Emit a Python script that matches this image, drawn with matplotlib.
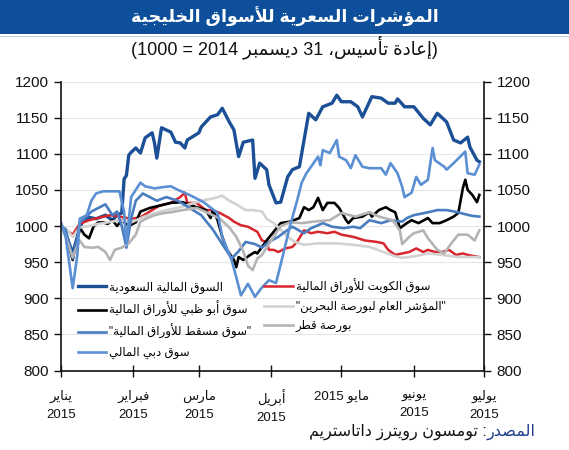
import re
import numpy as np
import matplotlib
matplotlib.use("Agg")
import matplotlib.pyplot as plt
from matplotlib.patches import Rectangle

plt.rcParams['font.family'] = ['Liberation Sans', 'DejaVu Sans']

# ---------------- data (days after 1 Jan 2015, index rebased 31 Dec 2014 = 1000) ----------------
saudi_days = [0, 2, 5, 7, 9, 12, 15, 19, 22, 24, 26, 27, 28, 29, 30, 32, 34, 36, 39, 40,
              41, 43, 45, 47, 49, 51, 53, 54, 56, 59, 60, 62, 64, 67, 69, 72, 74, 76, 78, 82,
              83, 85, 88, 89, 92, 94, 97, 99, 102, 104, 106, 109, 112, 116, 118, 120, 124, 127, 129, 133,
              137, 140, 143, 144, 147, 151, 155, 158, 161, 165, 168, 171, 174, 175, 178, 179]
saudi_vals = [1000, 990, 962, 985, 1005, 1012, 1010, 1015, 1008, 1015, 1018, 1065, 1070, 1098, 1102, 1108, 1101, 1122, 1129, 1115,
              1094, 1136, 1133, 1130, 1116, 1115, 1108, 1119, 1123, 1129, 1137, 1144, 1151, 1154, 1163, 1144, 1133, 1096, 1116, 1119,
              1066, 1087, 1078, 1057, 1032, 1033, 1068, 1078, 1082, 1119, 1156, 1147, 1165, 1170, 1181, 1172, 1172, 1165, 1151, 1179,
              1177, 1170, 1170, 1176, 1165, 1165, 1149, 1140, 1156, 1144, 1119, 1115, 1123, 1109, 1091, 1089]

kuwait_days = [0, 2, 5, 8, 12, 17, 21, 25, 30, 34, 38, 42, 47, 51, 53, 54, 58, 62, 65, 68,
               72, 74, 77, 80, 84, 86, 88, 89, 91, 93, 96, 99, 101, 104, 107, 110, 114, 117, 120, 125,
               127, 130, 135, 138, 140, 143, 146, 149, 152, 155, 157, 160, 163, 166, 169, 172, 174, 179]
kuwait_vals = [1000, 995, 988, 1003, 1008, 1012, 1015, 1013, 1010, 1012, 1020, 1028, 1032, 1040, 1046, 1032, 1032, 1022, 1022, 1018,
               1011, 1006, 1001, 999, 992, 980, 978, 967, 967, 964, 969, 971, 978, 994, 990, 992, 990, 992, 988, 985,
               983, 980, 978, 976, 967, 960, 962, 964, 969, 964, 967, 964, 964, 967, 960, 962, 960, 957]

abudhabi_days = [0, 2, 5, 7, 8, 10, 12, 14, 16, 18, 20, 22, 24, 26, 29, 32, 34, 38, 42, 47,
                 52, 58, 62, 64, 65, 67, 69, 71, 74, 75, 76, 78, 81, 83, 84, 86, 88, 91, 94, 98,
                 102, 104, 106, 108, 110, 112, 114, 117, 119, 122, 123, 125, 129, 132, 133, 136, 139, 141, 143, 145,
                 148, 150, 153, 157, 159, 162, 165, 168, 170, 172, 173, 174, 176, 178, 179]
abudhabi_vals = [1000, 990, 953, 985, 998, 988, 983, 1000, 1005, 1005, 1003, 1008, 1000, 1008, 1000, 1005, 1020, 1025, 1028, 1032,
                 1033, 1026, 1022, 1011, 1022, 1008, 985, 967, 953, 943, 957, 953, 960, 964, 962, 971, 980, 992, 1004, 1006,
                 1011, 1026, 1022, 1026, 1039, 1022, 1032, 1032, 1025, 1008, 1004, 1011, 1013, 1019, 1013, 1022, 1026, 1022, 1019, 997,
                 1004, 1008, 1004, 1011, 1004, 1004, 1008, 1013, 1018, 1053, 1064, 1050, 1043, 1033, 1043]

bahrain_days = [0, 2, 5, 8, 12, 16, 20, 25, 30, 35, 40, 45, 50, 55, 60, 65, 69, 72, 75, 79,
                82, 86, 88, 91, 94, 97, 100, 104, 110, 118, 125, 132, 138, 143, 146, 151, 157, 163, 170, 179]
bahrain_vals = [1000, 997, 985, 998, 1000, 1003, 1005, 1008, 1005, 1012, 1018, 1022, 1025, 1030, 1035, 1038, 1042, 1035, 1030, 1022,
                1022, 1020, 1010, 1004, 995, 985, 978, 974, 976, 976, 974, 971, 964, 958, 956, 958, 962, 960, 957, 957]

muscat_days = [0, 2, 5, 7, 8, 10, 13, 16, 19, 22, 24, 26, 28, 30, 32, 35, 38, 41, 45, 50,
               55, 60, 65, 70, 73, 76, 79, 83, 86, 89, 93, 95, 99, 104, 107, 110, 112, 116, 121, 125,
               128, 132, 137, 141, 146, 148, 151, 157, 161, 165, 170, 172, 176, 179]
muscat_vals = [1000, 995, 955, 985, 1005, 1010, 1020, 1025, 1030, 1015, 1020, 1000, 970, 1010, 1035, 1045, 1040, 1035, 1040, 1035,
               1025, 1015, 995, 970, 955, 965, 978, 975, 970, 978, 985, 990, 999, 990, 997, 1001, 1004, 999, 997, 999,
               997, 1008, 1004, 1008, 1006, 1011, 1015, 1019, 1022, 1022, 1019, 1017, 1014, 1013]

qatar_days = [0, 2, 5, 8, 10, 13, 16, 19, 21, 23, 26, 29, 32, 34, 37, 40, 44, 47, 52, 58,
              63, 68, 72, 75, 78, 80, 82, 84, 86, 88, 91, 94, 98, 103, 108, 115, 120, 126, 132, 136,
              142, 145, 146, 149, 151, 155, 157, 161, 164, 167, 170, 174, 177, 179]
qatar_vals = [1000, 985, 957, 980, 971, 970, 971, 964, 953, 967, 970, 976, 988, 1006, 1011, 1015, 1018, 1019, 1022, 1025,
              1018, 1010, 998, 985, 965, 945, 939, 955, 960, 970, 985, 1000, 1005, 1004, 1006, 1008, 1018, 1013, 1019, 1013,
              1008, 994, 975, 985, 990, 994, 983, 967, 962, 976, 988, 988, 980, 994]

dubai_days = [0, 2, 5, 7, 8, 11, 13, 15, 18, 25, 27, 28, 30, 34, 36, 40, 44, 47, 50, 55,
              61, 67, 69, 73, 75, 77, 80, 83, 86, 89, 92, 95, 98, 101, 103, 105, 107, 110, 111, 112,
              115, 118, 119, 122, 124, 126, 129, 132, 137, 139, 141, 144, 146, 147, 150, 152, 154, 157, 159, 160,
              164, 165, 168, 173, 174, 177, 179]
dubai_vals = [1005, 985, 914, 960, 1010, 1015, 1035, 1045, 1048, 1048, 1020, 975, 1040, 1060, 1055, 1052, 1054, 1055, 1050, 1043,
              1033, 1018, 985, 953, 929, 904, 920, 902, 915, 925, 921, 960, 1000, 1035, 1060, 1073, 1082, 1096, 1084, 1105,
              1101, 1119, 1096, 1091, 1080, 1098, 1082, 1080, 1080, 1071, 1087, 1073, 1054, 1040, 1046, 1068, 1057, 1064, 1108, 1091,
              1082, 1078, 1087, 1103, 1073, 1071, 1085]

names = {
    "saudi": "السوق المالية السعودية",
    "kuwait": "سوق الكويت للأوراق المالية",
    "abudhabi": "سوق أبو ظبي للأوراق المالية",
    "bahrain": "\"المؤشر العام لبورصة البحرين\"",
    "muscat": "\"سوق مسقط للأوراق المالية\"",
    "qatar": "بورصة قطر",
    "dubai": "سوق دبي المالي",
}
months = ["يناير", "فبراير", "مارس", "أبريل", "مايو", "يونيو", "يوليو"]
title = "المؤشرات السعرية للأسواق الخليجية"
subtitle = "(إعادة تأسيس، 31 ديسمبر 2014 = 1000)"
source_head = "المصدر"
source_rest = ": تومسون رويترز داتاستريم"

# ---------------- minimal arabic shaping (no reshaper lib in sandbox) ----------------
# letter -> (isolated form in presentation forms-B, joining: 0 none, 1 right, 2 dual)
_AR = {
    'ء': (0xFE80, 0), 'آ': (0xFE81, 1), 'أ': (0xFE83, 1), 'ؤ': (0xFE85, 1), 'إ': (0xFE87, 1),
    'ئ': (0xFE89, 2), 'ا': (0xFE8D, 1), 'ب': (0xFE8F, 2), 'ة': (0xFE93, 1), 'ت': (0xFE95, 2),
    'ث': (0xFE99, 2), 'ج': (0xFE9D, 2), 'ح': (0xFEA1, 2), 'خ': (0xFEA5, 2), 'د': (0xFEA9, 1),
    'ذ': (0xFEAB, 1), 'ر': (0xFEAD, 1), 'ز': (0xFEAF, 1), 'س': (0xFEB1, 2), 'ش': (0xFEB5, 2),
    'ص': (0xFEB9, 2), 'ض': (0xFEBD, 2), 'ط': (0xFEC1, 2), 'ظ': (0xFEC5, 2), 'ع': (0xFEC9, 2),
    'غ': (0xFECD, 2), 'ف': (0xFED1, 2), 'ق': (0xFED5, 2), 'ك': (0xFED9, 2), 'ل': (0xFEDD, 2),
    'م': (0xFEE1, 2), 'ن': (0xFEE5, 2), 'ه': (0xFEE9, 2), 'و': (0xFEED, 1), 'ى': (0xFEEF, 1),
    'ي': (0xFEF1, 2),
}
_LAM_ALEF = {'ا': 0xFEFB, 'أ': 0xFEF7, 'إ': 0xFEF9, 'آ': 0xFEF5}


def _shape(s):
    items = []
    i = 0
    while i < len(s):
        if s[i] == 'ل' and i + 1 < len(s) and s[i + 1] in _LAM_ALEF:
            items.append(('LA', _LAM_ALEF[s[i + 1]]))
            i += 2
        else:
            items.append((s[i], None))
            i += 1

    def jt(it):
        if it[0] == 'LA':
            return 1
        return _AR[it[0]][1] if it[0] in _AR else 0

    out = []
    for k, it in enumerate(items):
        c = it[0]
        t = jt(it)
        prev_j = t > 0 and k > 0 and jt(items[k - 1]) == 2
        next_j = t == 2 and k + 1 < len(items) and jt(items[k + 1]) > 0
        if c == 'LA':
            out.append(chr(it[1] + (1 if prev_j else 0)))
        elif c in _AR:
            base = _AR[c][0]
            if prev_j and next_j:
                out.append(chr(base + 3))
            elif prev_j:
                out.append(chr(base + 1))
            elif next_j:
                out.append(chr(base + 2))
            else:
                out.append(chr(base))
        else:
            out.append(c)
    return ''.join(out)


def ar(text):
    lines = []
    for line in text.split('\n'):
        v = _shape(line)[::-1]
        v = re.sub(r'\d+', lambda m: m.group(0)[::-1], v)
        v = v.translate(str.maketrans('()', ')('))
        lines.append(v)
    return '\n'.join(lines)


def to_dates(days):
    return np.datetime64('2015-01-01') + np.array(days, dtype='timedelta64[D]')


# ---------------- figure ----------------
fig = plt.figure(figsize=(5.69, 4.5), dpi=100)
fig.patch.set_facecolor('white')

# title band
fig.patches.append(Rectangle((0, 1 - 34 / 450), 1, 34 / 450, transform=fig.transFigure,
                             facecolor='#0d4f9a', edgecolor='none', zorder=0))
fig.patches.append(Rectangle((0, 1 - 37 / 450), 1, 1.5 / 450, transform=fig.transFigure,
                             facecolor='#b9cde6', edgecolor='none', zorder=0))
fig.text(0.5, 1 - 17 / 450, ar(title), color='white', fontsize=12.5, fontweight='bold',
         ha='center', va='center')
fig.text(0.5, 1 - 47 / 450, ar(subtitle), color='#111111', fontsize=13,
         ha='center', va='center')

ax = fig.add_axes([61 / 569, 1 - 370.5 / 450, 423 / 569, 289 / 450])

series = [
    ("saudi", saudi_days, saudi_vals, '#1b4f96', 2.4),
    ("kuwait", kuwait_days, kuwait_vals, '#d7262e', 1.8),
    ("abudhabi", abudhabi_days, abudhabi_vals, '#000000', 1.9),
    ("bahrain", bahrain_days, bahrain_vals, '#d2d2d2', 1.9),
    ("muscat", muscat_days, muscat_vals, '#4a7dc0', 1.9),
    ("qatar", qatar_days, qatar_vals, '#b4b4b4', 1.9),
    ("dubai", dubai_days, dubai_vals, '#5b8fd4', 1.9),
]
handles = {}
for key, d, v, col, lw in series:
    ln, = ax.plot(to_dates(d), v, color=col, lw=lw, solid_joinstyle='round')
    handles[key] = ln

ax.set_ylim(800, 1200)
ax.set_xlim(np.datetime64('2015-01-01'), np.datetime64('2015-07-01'))
ax.set_yticks(np.arange(800, 1201, 50))
ax.yaxis.grid(True, color='#e6e6e6', lw=0.8)
ax.set_axisbelow(True)

for s in ['left', 'right', 'bottom']:
    ax.spines[s].set_color('#111111')
    ax.spines[s].set_linewidth(1.2)
ax.spines['top'].set_visible(False)

ax.tick_params(axis='y', which='both', left=True, right=True, labelleft=True, labelright=True,
               direction='out', length=5, width=1, labelsize=11, pad=4, colors='#111111')

tick_dates = [np.datetime64('2015-%02d-01' % m) for m in range(1, 8)]
tick_labels = []
for m in months:
    if m == "مايو":
        tick_labels.append(ar(m + " 2015"))
    else:
        tick_labels.append(ar(m) + "\n2015")
ax.set_xticks(tick_dates)
ax.set_xticklabels(tick_labels, fontsize=9.5, linespacing=1.6, va='top')
ax.tick_params(axis='x', direction='inout', length=8, width=1, pad=10, colors='#111111')

order = ["saudi", "abudhabi", "muscat", "dubai", "kuwait", "bahrain", "qatar"]
ax.legend([handles[k] for k in order], [ar(names[k]) for k in order],
          ncol=2, loc='upper left', bbox_to_anchor=(0.04, 0.318), frameon=False,
          fontsize=8.5, handlelength=2.4, handletextpad=0.25, columnspacing=1.1,
          labelspacing=0.62, borderpad=0, borderaxespad=0)

# source line, head word in blue
head = fig.text(536 / 569, 1 - 432 / 450, ar(source_head), color='#1f3d8c', fontsize=11.5,
                ha='right', va='center')
ax.annotate(ar(source_rest), xy=(0, 0), xycoords=head, ha='right', va='bottom',
            fontsize=11.5, color='#111111', annotation_clip=False)

fig.savefig("out.png", dpi=100)
